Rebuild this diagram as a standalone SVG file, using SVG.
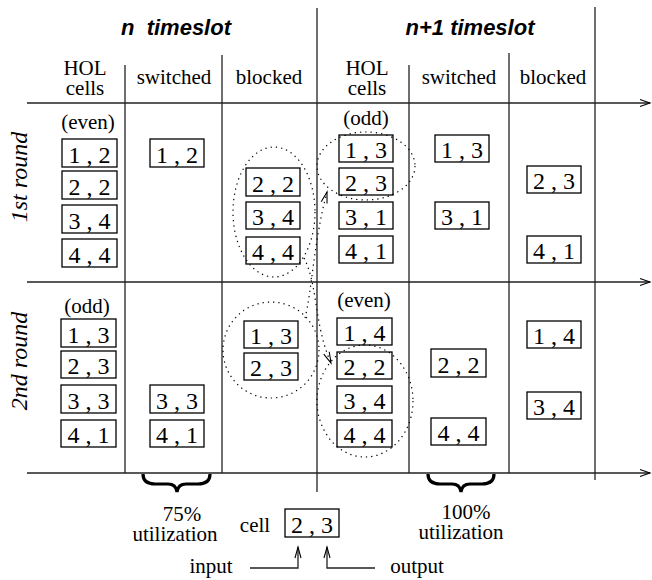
<svg xmlns="http://www.w3.org/2000/svg" width="652" height="580" viewBox="0 0 652 580">
<style>
.t{font-family:'Liberation Serif','DejaVu Serif',serif;font-size:21px;fill:#000;text-anchor:middle}
.c{font-family:'Liberation Serif','DejaVu Serif',serif;font-size:24px;fill:#000;text-anchor:middle}
.h{font-family:'Liberation Sans','DejaVu Sans',sans-serif;font-size:22px;font-weight:bold;font-style:italic;fill:#000;text-anchor:middle;white-space:pre}
.r{font-family:'Liberation Serif','DejaVu Serif',serif;font-size:24px;font-style:italic;fill:#000;text-anchor:middle}
.box{fill:#fff;stroke:#000;stroke-width:1.3}
.ln{stroke:#222;stroke-width:1.3;fill:none}
.dot{fill:none;stroke:#000;stroke-width:1.2;stroke-dasharray:1.3 4}
.br{fill:none;stroke:#000;stroke-width:3.2}
</style>
<defs>
<marker id="ah" markerUnits="userSpaceOnUse" markerWidth="12" markerHeight="10" refX="10" refY="3.5" orient="auto" overflow="visible">
<path d="M0,0 L10,3.5 L0,7" fill="none" stroke="#000" stroke-width="1.1"/>
</marker>
<marker id="ahs" markerUnits="userSpaceOnUse" markerWidth="12" markerHeight="8" refX="11" refY="3" orient="auto" overflow="visible">
<path d="M0,0 L11,3 L0,6" fill="none" stroke="#000" stroke-width="1.1"/>
</marker>
</defs>

<g id="grid">
<line class="ln" x1="27" y1="103" x2="650" y2="103" marker-end="url(#ah)"/>
<line class="ln" x1="27" y1="282" x2="650" y2="282" marker-end="url(#ah)"/>
<line class="ln" x1="27" y1="473" x2="650" y2="473" marker-end="url(#ah)"/>
<line class="ln" x1="125" y1="65" x2="125" y2="473"/>
<line class="ln" x1="222" y1="55" x2="222" y2="473"/>
<line class="ln" x1="317" y1="8" x2="317" y2="492"/>
<line class="ln" x1="409" y1="65" x2="409" y2="473"/>
<line class="ln" x1="509" y1="53" x2="509" y2="473"/>
<line class="ln" x1="595" y1="7" x2="595" y2="480"/>
</g>

<g id="headers" font-family="'Liberation Serif','DejaVu Serif',serif">
<text class="h" x="176" y="35" font-family="'Liberation Sans','DejaVu Sans',sans-serif">n  timeslot</text>
<text class="h" x="470" y="35" font-family="'Liberation Sans','DejaVu Sans',sans-serif">n+1 timeslot</text>
<text class="t" x="85" y="75">HOL</text>
<text class="t" x="85" y="95">cells</text>
<text class="t" x="174" y="84">switched</text>
<text class="t" x="269" y="84">blocked</text>
<text class="t" x="367" y="75">HOL</text>
<text class="t" x="367" y="95">cells</text>
<text class="t" x="459" y="84">switched</text>
<text class="t" x="553" y="84">blocked</text>
<text class="r" transform="translate(27,177) rotate(-90)">1st round</text>
<text class="r" transform="translate(27,361) rotate(-90)">2nd round</text>
<text class="t" x="88" y="129">(even)</text>
<text class="t" x="366" y="125">(odd)</text>
<text class="t" x="87" y="313">(odd)</text>
<text class="t" x="364" y="307">(even)</text>
</g>

<g id="n-r1-hol">
<rect class="box" x="62" y="139" width="55" height="28"/><text class="c" x="89.5" y="163">1 , 2</text>
<rect class="box" x="62" y="171" width="55" height="28"/><text class="c" x="89.5" y="195">2 , 2</text>
<rect class="box" x="62" y="205" width="55" height="28"/><text class="c" x="89.5" y="229">3 , 4</text>
<rect class="box" x="62" y="239" width="55" height="28"/><text class="c" x="89.5" y="263">4 , 4</text>
</g>
<g id="n-r1-sw">
<rect class="box" x="150" y="139" width="54" height="28"/><text class="c" x="177" y="163">1 , 2</text>
</g>
<g id="n-r1-bl">
<rect class="box" x="246" y="168" width="54" height="28"/><text class="c" x="273" y="192">2 , 2</text>
<rect class="box" x="246" y="202" width="54" height="27"/><text class="c" x="273" y="225">3 , 4</text>
<rect class="box" x="246" y="237" width="54" height="27"/><text class="c" x="273" y="260">4 , 4</text>
</g>
<g id="n1-r1-hol">
<rect class="box" x="339" y="135" width="54" height="27"/><text class="c" x="366" y="158">1 , 3</text>
<rect class="box" x="339" y="168" width="54" height="27"/><text class="c" x="366" y="191">2 , 3</text>
<rect class="box" x="339" y="202" width="54" height="27"/><text class="c" x="366" y="225">3 , 1</text>
<rect class="box" x="339" y="236" width="54" height="27"/><text class="c" x="366" y="259">4 , 1</text>
</g>
<g id="n1-r1-sw">
<rect class="box" x="435" y="135" width="54" height="27"/><text class="c" x="462" y="158">1 , 3</text>
<rect class="box" x="435" y="202" width="54" height="27"/><text class="c" x="462" y="225">3 , 1</text>
</g>
<g id="n1-r1-bl">
<rect class="box" x="527" y="166" width="54" height="27"/><text class="c" x="554" y="189">2 , 3</text>
<rect class="box" x="527" y="236" width="54" height="27"/><text class="c" x="554" y="259">4 , 1</text>
</g>

<g id="n-r2-hol">
<rect class="box" x="61" y="319" width="55" height="28"/><text class="c" x="88.5" y="343">1 , 3</text>
<rect class="box" x="61" y="351" width="55" height="27"/><text class="c" x="88.5" y="374">2 , 3</text>
<rect class="box" x="61" y="385" width="55" height="28"/><text class="c" x="88.5" y="409">3 , 3</text>
<rect class="box" x="61" y="420" width="55" height="27"/><text class="c" x="88.5" y="443">4 , 1</text>
</g>
<g id="n-r2-sw">
<rect class="box" x="150" y="385" width="54" height="28"/><text class="c" x="177" y="409">3 , 3</text>
<rect class="box" x="150" y="420" width="54" height="27"/><text class="c" x="177" y="443">4 , 1</text>
</g>
<g id="n-r2-bl">
<rect class="box" x="244" y="321" width="54" height="27"/><text class="c" x="271" y="344">1 , 3</text>
<rect class="box" x="244" y="353" width="54" height="27"/><text class="c" x="271" y="376">2 , 3</text>
</g>
<g id="n1-r2-hol">
<rect class="box" x="337" y="318" width="55" height="27"/><text class="c" x="364.5" y="341">1 , 4</text>
<rect class="box" x="337" y="352" width="55" height="27"/><text class="c" x="364.5" y="375">2 , 2</text>
<rect class="box" x="337" y="386" width="55" height="27"/><text class="c" x="364.5" y="409">3 , 4</text>
<rect class="box" x="337" y="420" width="55" height="27"/><text class="c" x="364.5" y="443">4 , 4</text>
</g>
<g id="n1-r2-sw">
<rect class="box" x="431" y="349" width="55" height="28"/><text class="c" x="458.5" y="373">2 , 2</text>
<rect class="box" x="431" y="418" width="55" height="27"/><text class="c" x="458.5" y="441">4 , 4</text>
</g>
<g id="n1-r2-bl">
<rect class="box" x="527" y="321" width="54" height="27"/><text class="c" x="554" y="344">1 , 4</text>
<rect class="box" x="527" y="392" width="54" height="27"/><text class="c" x="554" y="415">3 , 4</text>
</g>

<g id="groupings">
<ellipse class="dot" cx="274" cy="212" rx="41" ry="65"/>
<ellipse class="dot" cx="366" cy="166" rx="49" ry="34"/>
<ellipse class="dot" cx="271" cy="350" rx="48" ry="48"/>
<ellipse class="dot" cx="365" cy="401" rx="48" ry="56"/>
</g>

<g id="connectors">
<path class="dot" d="M304,258 C318,285 314,325 331,363" marker-end="url(#ahs)"/>
<path class="dot" d="M305,318 C312,290 314,240 327,192" marker-end="url(#ahs)"/>
<path class="ln" d="M250,568 H298 V547" marker-end="url(#ahs)"/>
<path class="ln" d="M375,568 H327 V547" marker-end="url(#ahs)"/>
</g>

<g id="braces">
<path class="br" d="M143,474 Q143,484 155,484 L168,484 Q176,484 177,492 Q178,484 186,484 L198,484 Q210,484 210,474"/>
<path class="br" d="M428,474 Q428,484 440,484 L452,484 Q460,484 461,492 Q462,484 470,484 L482,484 Q494,484 494,474"/>
</g>

<g id="legend">
<text class="t" x="182" y="521">75%</text>
<text class="t" x="175" y="541">utilization</text>
<text class="t" x="466" y="519">100%</text>
<text class="t" x="461" y="539">utilization</text>
<text class="t" x="255" y="532">cell</text>
<rect class="box" x="285" y="509" width="54" height="28"/><text class="c" x="312" y="533">2 , 3</text>
<text class="t" x="211" y="573">input</text>
<text class="t" x="417" y="573">output</text>
</g>
</svg>
